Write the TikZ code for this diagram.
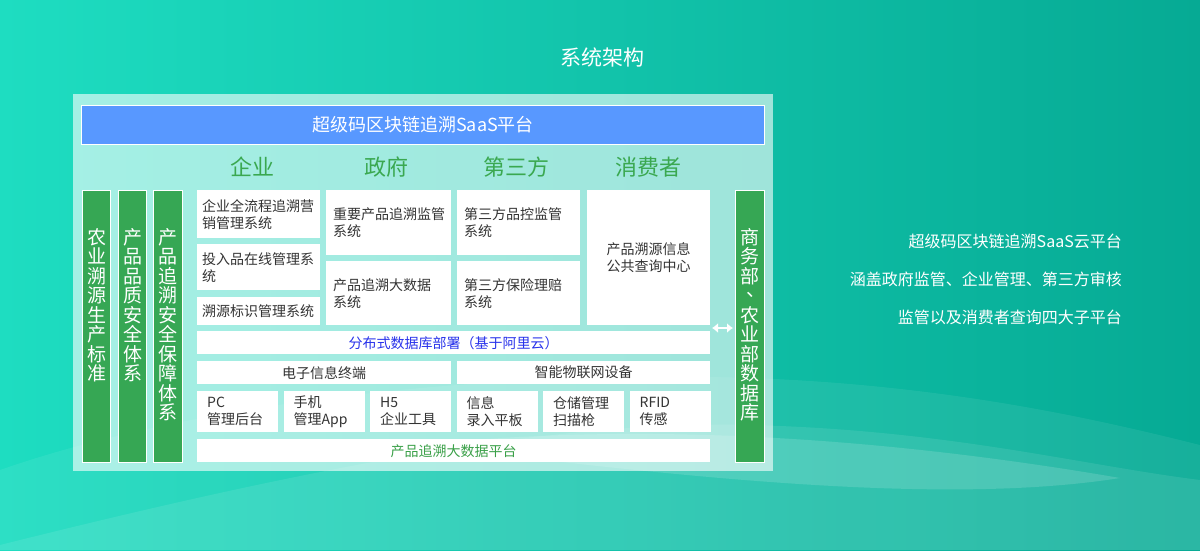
\documentclass[tikz,border=0pt]{standalone}
\usepackage{fontspec}
\setmainfont{Noto Sans CJK SC}
\usetikzlibrary{arrows.meta,positioning}
\usepackage{xcolor}

\definecolor{bgleft}{RGB}{30,221,193}
\definecolor{bgright}{RGB}{6,170,148}
\definecolor{barblue}{RGB}{88,152,255}
\definecolor{bargreen}{RGB}{54,167,84}
\definecolor{headgreen}{RGB}{58,168,80}
\definecolor{txtgray}{RGB}{51,51,51}
\definecolor{dbblue}{RGB}{40,50,235}
\definecolor{dbgreen}{RGB}{58,160,72}

\newcommand{\vcomma}{\makebox[1em][l]{\hspace*{0.3em}\raisebox{0.32em}{、}}}

\begin{document}
\begin{tikzpicture}[
  x=1pt, y=-1pt,
  panel/.style={fill=white, fill opacity=0.6, anchor=north west, inner sep=0pt},
  topbar/.style={fill=barblue, draw=white, line width=1pt, anchor=north west, inner sep=0pt, text=white, font=\fontsize{18}{20}\selectfont},
  head/.style={text=headgreen, inner sep=0pt, font=\fontsize{22}{24}\selectfont},
  vbar/.style={fill=bargreen, draw=white, line width=1pt, anchor=north west, inner sep=0pt, minimum height=272pt},
  vtxt/.style={text=white, align=center, inner sep=0pt, font=\fontsize{19}{19.5}\selectfont},
  sysbox/.style={fill=white, anchor=north west, inner xsep=7pt, inner ysep=0pt, align=left, text=txtgray, font=\fontsize{14}{17}\selectfont},
  widebar/.style={fill=white, anchor=north west, inner sep=0pt, minimum height=23pt, text=txtgray, font=\fontsize{14}{17}\selectfont},
  devbox/.style={sysbox, inner xsep=10pt, text width=61pt, minimum height=41pt},
  note/.style={text=white, anchor=east, inner sep=0pt, font=\fontsize{16}{18}\selectfont},
  dblarrow/.style={{Latex[length=6pt,width=10pt]}-{Latex[length=6pt,width=10pt]}, white, line width=2.8pt}
]
% background
\shade[left color=bgleft, right color=bgright] (0,0) rectangle (1200,550);
\fill[white, opacity=0.07] (0,470) .. controls (200,400) and (500,370) .. (750,378)
  .. controls (950,385) and (1100,420) .. (1200,445) -- (1200,550) -- (0,550) -- cycle;
\fill[white, opacity=0.09] (0,545) .. controls (300,470) and (550,420) .. (750,425)
  .. controls (950,430) and (1080,465) .. (1200,480) -- (1200,550) -- (0,550) -- cycle;
\fill[white, opacity=0.14] (420,445) .. controls (650,420) and (900,440) .. (1120,478)
  .. controls (950,505) and (700,480) .. (420,445) -- cycle;

\node[text=white, font=\fontsize{21}{23}\selectfont] (title) at (602,57) {系统架构};

% panel
\node[panel, minimum width=700pt, minimum height=377pt] (panel) at (73,94) {};
\node[topbar, minimum width=683pt, minimum height=39pt] (saas) at (81,105) {超级码区块链追溯SaaS平台};

\node[head] (hqy) at (252,167) {企业};
\node[head] (hzf) at (386,167) {政府};
\node[head] (hsf) at (516,167) {第三方};
\node[head] (hxf) at (648,167) {消费者};

% side bars
\node[vbar, minimum width=28pt, label={[vtxt, anchor=north, yshift=-38pt]north:农\\业\\溯\\源\\生\\产\\标\\准}] (vb1) at (82,190) {};
\node[vbar, minimum width=28pt, label={[vtxt, anchor=north, yshift=-38pt]north:产\\品\\品\\质\\安\\全\\体\\系}] (vb2) at (118,190) {};
\node[vbar, minimum width=29pt, label={[vtxt, anchor=north, yshift=-38pt]north:产\\品\\追\\溯\\安\\全\\保\\障\\体\\系}] (vb3) at (153,190) {};
\node[vbar, minimum width=29pt, label={[vtxt, anchor=north, yshift=-38pt]north:商\\务\\部\\\vcomma\\农\\业\\部\\数\\据\\库}] (rbar) at (735,190) {};

% systems
\node[sysbox, inner xsep=5pt, text width=113pt, minimum height=48pt] (qy1) at (197,190) {企业全流程追溯营\\销管理系统};
\node[sysbox, inner xsep=5pt, text width=113pt, minimum height=46pt] (qy2) at (197,244) {投入品在线管理系\\统};
\node[sysbox, inner xsep=5pt, text width=113pt, minimum height=28pt] (qy3) at (197,297) {溯源标识管理系统};
\node[sysbox, text width=111pt, minimum height=65pt] (zf1) at (326,190) {重要产品追溯监管\\系统};
\node[sysbox, text width=111pt, minimum height=64pt] (zf2) at (326,261) {产品追溯大数据\\系统};
\node[sysbox, text width=109pt, minimum height=65pt] (sf1) at (457,190) {第三方品控监管\\系统};
\node[sysbox, text width=109pt, minimum height=64pt] (sf2) at (457,261) {第三方保险理赔\\系统};
\node[sysbox, align=center, text width=109pt, minimum height=135pt] (xf) at (587,190) {产品溯源信息\\公共查询中心};

% data layers
\node[widebar, minimum width=513pt, text=dbblue] (db) at (197,331) {分布式数据库部署（基于阿里云）};
\node[widebar, minimum width=254pt] (zd) at (197,361) {电子信息终端};
\node[widebar, minimum width=253pt] (wl) at (457,361) {智能物联网设备};

\node[devbox] (dev1) at (197,391) {PC\\管理后台};
\node[devbox] (dev2) at (283.5,391) {手机\\管理App};
\node[devbox] (dev3) at (370,391) {H5\\企业工具};
\node[devbox] (dev4) at (456.5,391) {信息\\录入平板};
\node[devbox] (dev5) at (543,391) {仓储管理\\扫描枪};
\node[devbox] (dev6) at (629.5,391) {RFID\\传感};

\node[widebar, minimum width=513pt, text=dbgreen] (bigdata) at (197,439) {产品追溯大数据平台};

\coordinate (arr) at (712,328);
\draw[dblarrow] (arr) -- ([xshift=-2pt]arr -| rbar.west);

% notes
\node[note] (note1) at (1122,241) {超级码区块链追溯SaaS云平台};
\node[note] (note2) at (1122,279) {涵盖政府监管、企业管理、第三方审核};
\node[note] (note3) at (1122,317) {监管以及消费者查询四大子平台};
\end{tikzpicture}
\end{document}
